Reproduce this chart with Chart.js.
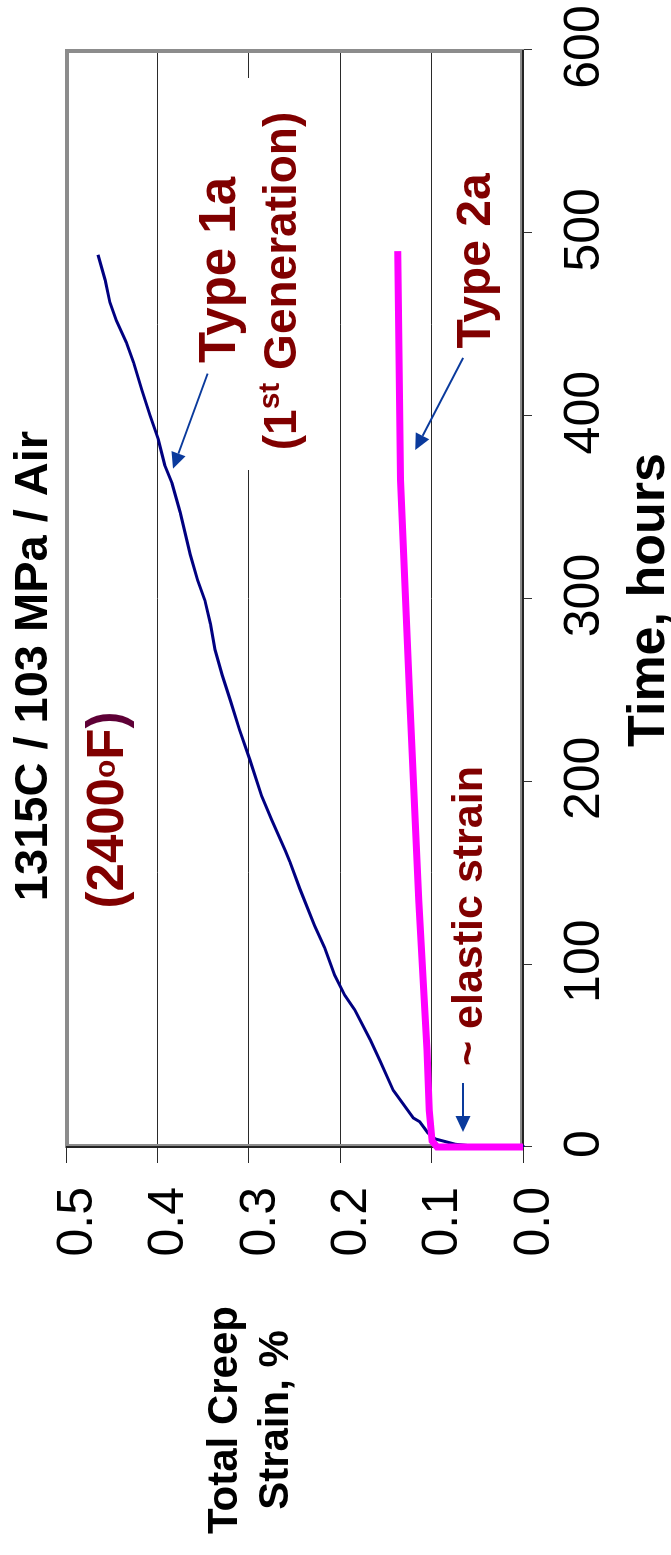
<!DOCTYPE html>
<html>
<head>
<meta charset="utf-8">
<script src="https://cdn.jsdelivr.net/npm/chart.js@4.4.1/dist/chart.umd.min.js"></script>
<style>
  html, body { margin: 0; padding: 0; background: #fff; overflow: hidden; width: 671px; height: 1555px; }
  /* the chart is laid out landscape and turned a quarter turn to stand upright */
  #wrap { position: absolute; left: 0; top: 0; width: 1555px; height: 671px;
          transform-origin: 0 0; transform: translate(0, 1555px) rotate(-90deg); }
  canvas { display: block; width: 1555px; height: 671px; }
</style>
</head>
<body>
<div id="wrap"><canvas id="c" width="1555" height="671"></canvas></div>
<script>
// axis ticks
const timeTicks = [0, 100, 200, 300, 400, 500, 600];
const strainTicks = [0.0, 0.1, 0.2, 0.3, 0.4, 0.5];

// Type 1a (1st generation): time in hours, total creep strain in %
const type1aTime = [0, 0.3, 1.5, 3.5, 4.4, 7.7, 13.8, 15.9, 31, 46.7, 58.5, 75, 83, 94, 109, 121, 141, 156, 162, 179,
  192, 212, 228, 244, 258, 272, 286, 299, 310, 324, 347, 363, 373, 387, 400, 414, 429, 440, 452, 462, 474, 488];
const type1aStrain = [0, 0.05, 0.074, 0.089, 0.096, 0.104, 0.113, 0.12, 0.142, 0.156, 0.167, 0.184, 0.195, 0.206, 0.217, 0.228, 0.244, 0.255, 0.26, 0.275,
  0.286, 0.299, 0.31, 0.32, 0.329, 0.337, 0.342, 0.348, 0.356, 0.364, 0.375, 0.384, 0.392, 0.399, 0.408, 0.417, 0.426, 0.434, 0.445, 0.452, 0.457, 0.465];

// Type 2a
const type2aTime = [0, 0, 3.3, 20, 53, 135, 245, 365, 490];
const type2aStrain = [0, 0.094, 0.0995, 0.1025, 0.105, 0.114, 0.124, 0.134, 0.137];

// arrow anchors in data units: [time, strain]
const arrowType1a = [[423, 0.345], [371, 0.383]];
const arrowType2a = [[431.6, 0.0656], [381.2, 0.118]];
const arrowElastic = [[35, 0.0656], [8.2, 0.0656]];

const FONT = "'Liberation Sans', Arial, Helvetica, sans-serif";
const LABEL_RED = '#800000';
const ARROW_BLUE = '#0a3a9c';

function toPoints(xs, ys) { return xs.map((x, i) => ({ x: x, y: ys[i] })); }

function drawRuns(ctx, parts, cx, base, color) {
  let total = 0;
  parts.forEach(p => {
    ctx.font = 'bold ' + p.size + 'px ' + FONT;
    p.w = ctx.measureText(p.t).width;
    total += p.w;
  });
  let x = cx - total / 2;
  ctx.textAlign = 'left';
  ctx.textBaseline = 'alphabetic';
  parts.forEach(p => {
    ctx.font = 'bold ' + p.size + 'px ' + FONT;
    ctx.fillStyle = p.color || color;
    ctx.fillText(p.t, x, base - (p.rise || 0));
    x += p.w;
  });
}

function drawArrow(chart, pair) {
  const ctx = chart.ctx, xs = chart.scales.x, ys = chart.scales.y;
  const x1 = xs.getPixelForValue(pair[0][0]), y1 = ys.getPixelForValue(pair[0][1]);
  const x2 = xs.getPixelForValue(pair[1][0]), y2 = ys.getPixelForValue(pair[1][1]);
  const ang = Math.atan2(y2 - y1, x2 - x1);
  const hl = 16, hw = 7.5;
  const bx = x2 - hl * Math.cos(ang), by = y2 - hl * Math.sin(ang);
  ctx.save();
  ctx.strokeStyle = ARROW_BLUE;
  ctx.fillStyle = ARROW_BLUE;
  ctx.lineWidth = 2;
  ctx.beginPath(); ctx.moveTo(x1, y1); ctx.lineTo(bx, by); ctx.stroke();
  ctx.beginPath();
  ctx.moveTo(x2, y2);
  ctx.lineTo(bx + hw * Math.sin(ang), by - hw * Math.cos(ang));
  ctx.lineTo(bx - hw * Math.sin(ang), by + hw * Math.cos(ang));
  ctx.closePath(); ctx.fill();
  ctx.restore();
}

const framePlugin = {
  id: 'plotFrame',
  beforeDatasetsDraw(chart) {
    const ctx = chart.ctx, a = chart.chartArea;
    ctx.save();
    // white panel behind the Type 1a caption
    ctx.fillStyle = '#fff';
    ctx.fillRect(1085, 190, 392, 112);
    // grey plot-area border
    ctx.strokeStyle = '#8c8c8c';
    ctx.lineWidth = 4;
    ctx.strokeRect(a.left + 1, a.top + 1, a.right - a.left - 2, a.bottom - a.top - 2);
    // black axis lines
    ctx.strokeStyle = '#000';
    ctx.lineWidth = 1.5;
    ctx.beginPath();
    ctx.moveTo(a.left, a.top);
    ctx.lineTo(a.left, a.bottom);
    ctx.lineTo(a.right, a.bottom);
    ctx.stroke();
    ctx.restore();
  },
  afterDatasetsDraw(chart) {
    const ctx = chart.ctx;
    ctx.save();
    // chart title and axis titles
    drawRuns(ctx, [{ t: '1315C / 103 MPa / Air', size: 47 }], 889, 47, '#000');
    drawRuns(ctx, [{ t: 'Total Creep', size: 42 }], 135, 237, '#000');
    drawRuns(ctx, [{ t: 'Strain, %', size: 42 }], 135, 288, '#000');
    drawRuns(ctx, [{ t: 'Time, hours', size: 52 }], 955, 664, '#000');
    // annotations
    drawRuns(ctx, [{ t: '(2400', size: 51 }, { t: 'o', size: 30, rise: 8 }, { t: 'F', size: 51 },
                   { t: ')', size: 51, color: '#5e0036' }], 745, 123, LABEL_RED);
    drawRuns(ctx, [{ t: 'Type 1a', size: 51 }], 1285, 235, LABEL_RED);
    drawRuns(ctx, [{ t: '(1', size: 46 }, { t: 'st', size: 30, rise: 17 }, { t: ' Generation)', size: 46 }],
             1274, 296, LABEL_RED);
    drawRuns(ctx, [{ t: 'Type 2a', size: 48 }], 1294, 490, LABEL_RED);
    drawRuns(ctx, [{ t: '~ elastic strain', size: 43 }], 639, 482, LABEL_RED);
    ctx.restore();
    drawArrow(chart, arrowType1a);
    drawArrow(chart, arrowType2a);
    drawArrow(chart, arrowElastic);
  }
};

new Chart(document.getElementById('c'), {
  type: 'line',
  data: {
    datasets: [
      {
        label: 'Type 2a',
        data: toPoints(type2aTime, type2aStrain),
        borderColor: '#ff00ff',
        borderWidth: 7,
        pointRadius: 0,
        tension: 0,
        clip: false
      },
      {
        label: 'Type 1a',
        data: toPoints(type1aTime, type1aStrain),
        borderColor: '#000080',
        borderWidth: 3,
        pointRadius: 0,
        tension: 0,
        clip: false
      }
    ]
  },
  options: {
    responsive: false,
    animation: false,
    devicePixelRatio: 1,
    layout: { padding: { left: 0, top: 66, right: 50, bottom: 0 } },
    plugins: { legend: { display: false }, tooltip: { enabled: false } },
    scales: {
      x: {
        type: 'linear',
        min: 0, max: 600,
        afterBuildTicks: s => { s.ticks = timeTicks.map(v => ({ value: v })); },
        afterFit: s => { s.height = 148; s.paddingLeft = 0; s.paddingRight = 0; },
        ticks: {
          font: { family: FONT, size: 50 },
          color: '#000',
          padding: 23,
          labelOffset: 3,
          autoSkip: false,
          maxRotation: 0, minRotation: 0,
          callback: v => String(v)
        },
        grid: { drawOnChartArea: false, tickLength: 9, color: '#333', lineWidth: 1 },
        border: { display: false }
      },
      y: {
        type: 'linear',
        min: 0, max: 0.5,
        afterBuildTicks: s => { s.ticks = strainTicks.map(v => ({ value: v })); },
        afterFit: s => { s.width = 408; s.paddingTop = 0; s.paddingBottom = 0; },
        ticks: {
          font: { family: FONT, size: 50 },
          color: '#000',
          padding: 24,
          labelOffset: 12,
          autoSkip: false,
          callback: v => Number(v).toFixed(1)
        },
        grid: { drawOnChartArea: true, tickLength: 16, color: '#2a2a2a', lineWidth: 1 },
        border: { display: false }
      }
    }
  },
  plugins: [framePlugin]
});
</script>
</body>
</html>
